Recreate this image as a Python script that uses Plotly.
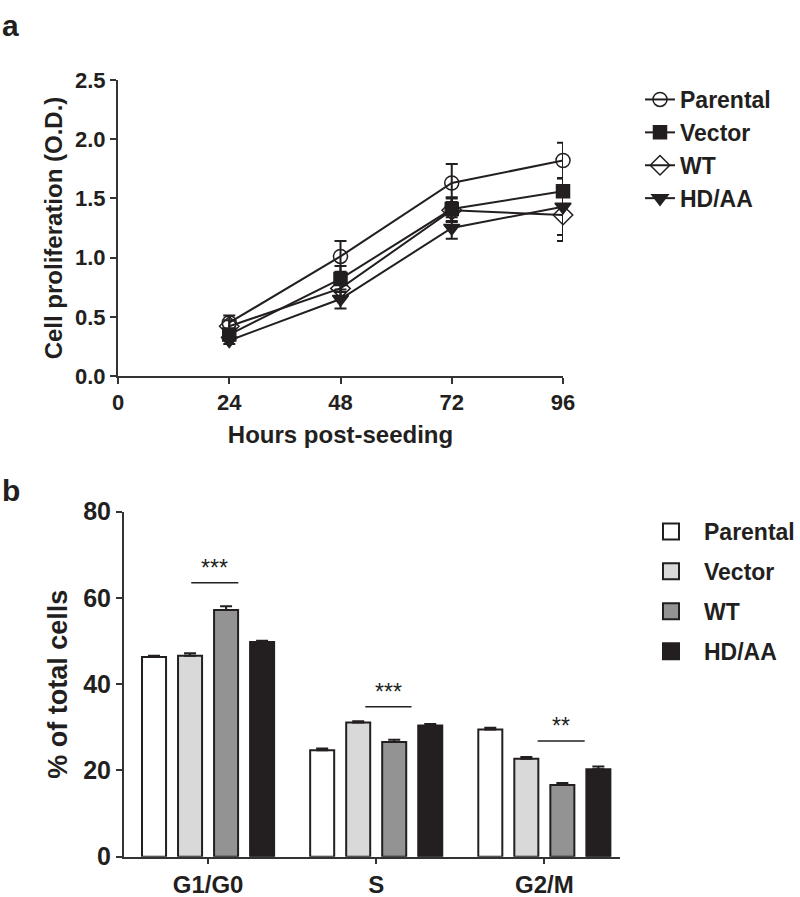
import plotly.graph_objects as go

# ---------------- Panel a data ----------------
hours = [24, 48, 72, 96]
prolif_parental = [0.45, 1.01, 1.63, 1.82]
prolif_parental_err = [0.06, 0.13, 0.16, 0.15]
prolif_vector = [0.35, 0.82, 1.41, 1.56]
prolif_vector_err = [0.04, 0.11, 0.10, 0.11]
prolif_wt = [0.42, 0.74, 1.40, 1.36]
prolif_wt_err = [0.05, 0.08, 0.10, 0.22]
prolif_hdaa = [0.30, 0.65, 1.25, 1.43]
prolif_hdaa_err = [0.03, 0.08, 0.09, 0.24]
x_ticks_a = [0, 24, 48, 72, 96]
y_ticks_a = [0.0, 0.5, 1.0, 1.5, 2.0, 2.5]

# ---------------- Panel b data ----------------
phases = ["G1/G0", "S", "G2/M"]
cc_parental = [46.3, 24.7, 29.5]
cc_parental_err = [0.3, 0.4, 0.4]
cc_vector = [46.6, 31.1, 22.7]
cc_vector_err = [0.6, 0.3, 0.4]
cc_wt = [57.2, 26.6, 16.6]
cc_wt_err = [0.9, 0.5, 0.5]
cc_hdaa = [49.8, 30.4, 20.3]
cc_hdaa_err = [0.3, 0.4, 0.6]
y_ticks_b = [0, 20, 40, 60, 80]
sig_labels = ["***", "***", "**"]
sig_y = [63.5, 34.8, 26.8]
sig_x0 = [-0.10, -0.065, -0.04]
sig_x1 = [0.18, 0.21, 0.24]

FONT = "Arial, Liberation Sans, sans-serif"
INK = "#231f20"
AXIS = "#333333"

fig = go.Figure()

series_a = [
    ("Parental", prolif_parental, prolif_parental_err, "circle-open", 14),
    ("Vector", prolif_vector, prolif_vector_err, "square", 13),
    ("WT", prolif_wt, prolif_wt_err, "diamond-open", 15),
    ("HD/AA", prolif_hdaa, prolif_hdaa_err, "triangle-down", 14),
]
for name, vals, errs, sym, sz in series_a:
    fig.add_trace(go.Scatter(
        x=hours, y=vals, name=name, mode="lines+markers",
        line=dict(color=INK, width=2),
        marker=dict(symbol=sym, size=sz, color=INK,
                    line=dict(color=INK, width=1.5)),
        error_y=dict(type="data", array=errs, color=INK, thickness=2, width=6),
        xaxis="x", yaxis="y", legend="legend", legendgroup=name,
        cliponaxis=False,
    ))

colors_b = ["#ffffff", "#d9d9d9", "#939393", INK]
series_b = [
    ("Parental", cc_parental, cc_parental_err),
    ("Vector", cc_vector, cc_vector_err),
    ("WT", cc_wt, cc_wt_err),
    ("HD/AA", cc_hdaa, cc_hdaa_err),
]
for (name, vals, errs), col in zip(series_b, colors_b):
    fig.add_trace(go.Bar(
        x=list(range(len(phases))), y=vals, name=name,
        marker=dict(color=col, line=dict(color=INK, width=2)),
        error_y=dict(type="data", symmetric=False, array=errs,
                     arrayminus=[0] * len(errs), color=INK, thickness=2, width=6),
        xaxis="x2", yaxis="y2", showlegend=False,
    ))
    # legend entry with a larger swatch
    fig.add_trace(go.Scatter(
        x=[None], y=[None], name=name, mode="markers",
        marker=dict(symbol="square", size=16, color=col,
                    line=dict(color=INK, width=2)),
        xaxis="x2", yaxis="y2", legend="legend2", legendgroup="b" + name,
    ))

# significance bars
for i, (lab, yv, a0, a1) in enumerate(zip(sig_labels, sig_y, sig_x0, sig_x1)):
    fig.add_shape(type="line", xref="x2", yref="y2",
                  x0=i + a0, x1=i + a1, y0=yv, y1=yv,
                  line=dict(color=INK, width=1.5))
    fig.add_annotation(xref="x2", yref="y2", x=i + (a0 + a1) / 2, y=yv,
                       text=lab, showarrow=False, yanchor="bottom", yshift=0,
                       font=dict(family=FONT, size=23, color=INK, weight="normal"))

# panel letters
fig.add_annotation(xref="paper", yref="paper", x=0, y=1 - 7 / 897,
                   xanchor="left", yanchor="top", text="a", showarrow=False,
                   font=dict(family=FONT, size=30, color=INK, weight="bold"))
fig.add_annotation(xref="paper", yref="paper", x=0, y=1 - 472 / 897,
                   xanchor="left", yanchor="top", text="b", showarrow=False,
                   font=dict(family=FONT, size=30, color=INK, weight="bold"))

tick_a = dict(family=FONT, size=22, color=INK, weight="bold")
tick_b = dict(family=FONT, size=25, color=INK, weight="bold")

fig.update_layout(
    width=800, height=897,
    margin=dict(l=0, r=0, t=0, b=0, autoexpand=False),
    paper_bgcolor="white", plot_bgcolor="white",
    font=dict(family=FONT, color=INK, weight="bold"),
    barmode="group", bargap=0.143, bargroupgap=0.333,
    xaxis=dict(domain=[118 / 800, 563 / 800], anchor="y",
               range=[0, 96], tickvals=x_ticks_a, showgrid=False, zeroline=False,
               showline=True, linecolor=AXIS, linewidth=2,
               ticks="outside", ticklen=6, tickwidth=2, tickcolor=AXIS,
               tickfont=tick_a,
               title=dict(text="Hours post-seeding", standoff=12,
                          font=dict(family=FONT, size=24, color=INK, weight="bold"))),
    yaxis=dict(domain=[1 - 376 / 897, 1 - 80 / 897], anchor="x",
               range=[0, 2.5], tickvals=y_ticks_a, tickformat=".1f",
               showgrid=False, zeroline=False,
               showline=True, linecolor=AXIS, linewidth=2,
               ticks="outside", ticklen=6, tickwidth=2, tickcolor=AXIS,
               tickfont=tick_a,
               title=dict(text="Cell proliferation (O.D.)", standoff=6,
                          font=dict(family=FONT, size=24, color=INK, weight="bold"))),
    xaxis2=dict(domain=[124 / 800, 620 / 800], anchor="y2",
                range=[-0.5, 2.45], tickvals=list(range(len(phases))), ticktext=phases,
                showgrid=False, zeroline=False,
                showline=True, linecolor=AXIS, linewidth=2,
                ticks="outside", ticklen=5, tickwidth=2, tickcolor=AXIS,
                tickfont=dict(family=FONT, size=24, color=INK, weight="bold")),
    yaxis2=dict(domain=[1 - 856.7 / 897, 1 - 511.7 / 897], anchor="x2",
                range=[0, 80], tickvals=y_ticks_b,
                showgrid=False, zeroline=False,
                showline=True, linecolor=AXIS, linewidth=2,
                ticks="outside", ticklen=6, tickwidth=2, tickcolor=AXIS,
                tickfont=tick_b,
                title=dict(text="% of total cells", standoff=8,
                           font=dict(family=FONT, size=27, color=INK, weight="bold"))),
    legend=dict(x=640 / 800, y=1 - 78 / 897, xanchor="left", yanchor="top",
                font=dict(family=FONT, size=23, color=INK, weight="bold"),
                tracegroupgap=0, bgcolor="rgba(0,0,0,0)"),
    legend2=dict(x=638 / 800, y=1 - 510 / 897, xanchor="left", yanchor="top",
                 font=dict(family=FONT, size=23, color=INK, weight="bold"),
                 itemwidth=56,
                 tracegroupgap=7, bgcolor="rgba(0,0,0,0)"),
)

fig.write_html("out.html", config={"displayModeBar": False},
               post_script="document.body.style.margin='0px';")
